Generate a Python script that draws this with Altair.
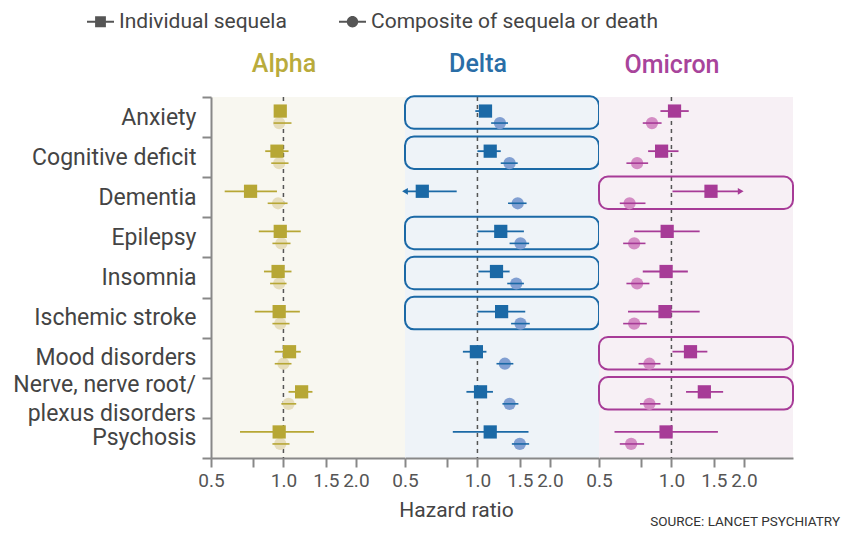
import altair as alt
import pandas as pd

FONT = "Roboto"

NERVE = "Nerve, nerve root/|plexus disorders"
rows = ["Anxiety", "Cognitive deficit", "Dementia", "Epilepsy", "Insomnia",
        "Ischemic stroke", "Mood disorders", NERVE, "Psychosis"]
variants = ["Alpha", "Delta", "Omicron"]

# Individual sequela (square) hazard ratios and 95% CI
alpha_sq = [0.97, 0.94, 0.73, 0.97, 0.95, 0.96, 1.06, 1.19, 0.96]
alpha_sq_lo = [0.93, 0.84, 0.57, 0.79, 0.83, 0.76, 0.92, 1.05, 0.66]
alpha_sq_hi = [1.01, 1.05, 0.94, 1.18, 1.08, 1.17, 1.18, 1.32, 1.34]
# Composite of sequela or death (circle)
alpha_co = [0.96, 0.96, 0.95, 0.98, 0.96, 0.97, 1.00, 1.05, 0.97]
alpha_co_lo = [0.91, 0.89, 0.86, 0.90, 0.88, 0.90, 0.92, 0.98, 0.90]
alpha_co_hi = [1.08, 1.05, 1.04, 1.07, 1.03, 1.06, 1.08, 1.13, 1.06]

delta_sq = [1.08, 1.13, 0.59, 1.25, 1.20, 1.26, 0.99, 1.03, 1.13]
delta_sq_lo = [0.98, 1.00, 0.50, 1.00, 1.01, 1.00, 0.87, 0.90, 0.79]
delta_sq_hi = [1.13, 1.25, 0.82, 1.56, 1.36, 1.58, 1.09, 1.16, 1.63]
delta_co = [1.24, 1.36, 1.47, 1.51, 1.45, 1.51, 1.30, 1.36, 1.50]
delta_co_lo = [1.14, 1.25, 1.34, 1.36, 1.33, 1.38, 1.20, 1.27, 1.39]
delta_co_hi = [1.34, 1.47, 1.60, 1.64, 1.56, 1.65, 1.41, 1.48, 1.64]

omicron_sq = [1.03, 0.91, 1.46, 0.96, 0.95, 0.94, 1.20, 1.37, 0.95]
omicron_sq_lo = [0.90, 0.80, 1.01, 0.70, 0.76, 0.66, 1.01, 1.15, 0.58]
omicron_sq_hi = [1.18, 1.07, 1.94, 1.31, 1.17, 1.31, 1.41, 1.64, 1.56]
omicron_co = [0.83, 0.72, 0.67, 0.70, 0.72, 0.70, 0.81, 0.81, 0.68]
omicron_co_lo = [0.76, 0.65, 0.61, 0.63, 0.65, 0.63, 0.73, 0.74, 0.61]
omicron_co_hi = [0.91, 0.80, 0.78, 0.78, 0.81, 0.79, 0.90, 0.90, 0.77]

# truncated confidence intervals (arrow direction)
arrows = {("Delta", "Dementia"): "left", ("Omicron", "Dementia"): "right"}

# highlighted rows
highlight = {
    "Alpha": [],
    "Delta": ["Anxiety", "Cognitive deficit", "Epilepsy", "Insomnia", "Ischemic stroke"],
    "Omicron": ["Dementia", "Mood disorders", NERVE],
}

legend_labels = ["Individual sequela", "Composite of sequela or death"]
tick_values = [0.5, 0.75, 1.0, 1.5, 2.0]
ref_value = [1.0]

colors = {
    "Alpha": {"dark": "#b7a735", "light": "#e6ddbb", "bg": "#f8f7f0", "title": "#b9ab3c"},
    "Delta": {"dark": "#1b69a6", "light": "#819fd2", "bg": "#eef3f8", "title": "#2a6ea7"},
    "Omicron": {"dark": "#a73b97", "light": "#d48cc4", "bg": "#f7f0f5", "title": "#a8449b"},
}

series = {
    "Alpha": (alpha_sq, alpha_sq_lo, alpha_sq_hi, alpha_co, alpha_co_lo, alpha_co_hi),
    "Delta": (delta_sq, delta_sq_lo, delta_sq_hi, delta_co, delta_co_lo, delta_co_hi),
    "Omicron": (omicron_sq, omicron_sq_lo, omicron_sq_hi, omicron_co, omicron_co_lo, omicron_co_hi),
}

records = []
for v in variants:
    sq, sql, sqh, co, col, coh = series[v]
    for i, r in enumerate(rows):
        records.append(dict(variant=v, outcome=r, kind="sq", hr=sq[i], lo=sql[i], hi=sqh[i],
                            arrow=arrows.get((v, r), "")))
        records.append(dict(variant=v, outcome=r, kind="co", hr=co[i], lo=col[i], hi=coh[i],
                            arrow=""))
df = pd.DataFrame(records)
ref_df = pd.DataFrame({"x": ref_value})
legend_df = pd.DataFrame({"label": legend_labels})
nerve_df = pd.DataFrame({"outcome": [NERVE]})

sq_path = "M-1,-0.08H-0.4V-0.4H0.4V-0.08H1V0.08H0.4V0.4H-0.4V0.08H-1Z"
circ_path = "M-1,-0.08H1V0.08H-1Z M0.42,0 A0.42,0.42 0 1,1 -0.42,0 A0.42,0.42 0 1,1 0.42,0Z"

W, H = 194, 361
SQ_OFF, CO_OFF = -6, 6
LABEL_SIZE = 23


def panel(v, idx):
    c = colors[v]
    xscale = alt.Scale(type="log", domain=[0.5, 3.2], nice=False)
    xaxis = alt.Axis(
        values=tick_values,
        labelExpr="datum.value == 0.75 ? '' : format(datum.value, '.1f')",
        labelFontSize=19, labelColor="#555", labelFont=FONT, labelFlush=False,
        labelOverlap=False, labelPadding=4,
        tickSize=9, tickColor="#888", tickWidth=2,
        domainColor="#888", domainWidth=2, grid=False,
        title="Hazard ratio" if idx == 1 else None,
        titleFontSize=21, titleFontWeight="normal", titleColor="#444", titleFont=FONT,
        titlePadding=9, titleX=51,
    )
    if idx == 0:
        yaxis = alt.Axis(
            labelFontSize=LABEL_SIZE, labelColor="#444", labelFont=FONT, labelLimit=400,
            labelExpr="indexof(datum.label, '|') >= 0 ? '' : datum.label",
            tickBand="extent", tickSize=9, tickColor="#888", tickWidth=2,
            domainColor="#888", domainWidth=2, labelPadding=6,
            minExtent=197, maxExtent=197, title=None,
        )
    else:
        yaxis = None
    yscale = alt.Scale(domain=rows, paddingInner=0, paddingOuter=0)

    def X(f):
        return alt.X(f, type="quantitative", scale=xscale, axis=xaxis)

    def Y():
        if yaxis is None:
            return alt.Y("outcome:N", scale=yscale, axis=None)
        return alt.Y("outcome:N", scale=yscale, axis=yaxis)

    d = df[df.variant == v]
    sqd = d[d.kind == "sq"]
    cod = d[d.kind == "co"]

    layers = []
    ref = alt.Chart(ref_df).mark_rule(strokeDash=[4, 4], color="#555", strokeWidth=1.5).encode(x=X("x"))
    layers.append(ref)
    hl = highlight[v]
    if hl:
        box_df = pd.DataFrame({"outcome": hl})
        boxes = alt.Chart(box_df).mark_bar(
            fillOpacity=0, stroke=c["dark"], strokeWidth=2, cornerRadius=9,
            height=alt.RelativeBandSize(band=0.81), yOffset=-4.5,
        ).encode(y=Y())
        layers.append(boxes)
    circles = alt.Chart(cod).mark_circle(size=150, opacity=1, color=c["light"], yOffset=CO_OFF).encode(
        x=X("hr"), y=Y())
    co_rule = alt.Chart(cod).mark_rule(color=c["dark"], strokeWidth=1.6, yOffset=CO_OFF).encode(
        x=X("lo"), x2="hi:Q", y=Y())
    sq_rule = alt.Chart(sqd).mark_rule(color=c["dark"], strokeWidth=1.8, yOffset=SQ_OFF).encode(
        x=X("lo"), x2="hi:Q", y=Y())
    squares = alt.Chart(sqd).mark_square(size=175, opacity=1, color=c["dark"], yOffset=SQ_OFF).encode(
        x=X("hr"), y=Y())
    layers += [circles, co_rule, sq_rule, squares]
    left = sqd[sqd.arrow == "left"]
    right = sqd[sqd.arrow == "right"]
    if len(left):
        layers.append(alt.Chart(left).mark_point(shape="triangle-left", filled=True, size=45, opacity=1,
                                                 color=c["dark"], yOffset=SQ_OFF).encode(x=X("lo"), y=Y()))
    if len(right):
        layers.append(alt.Chart(right).mark_point(shape="triangle-right", filled=True, size=45, opacity=1,
                                                  color=c["dark"], yOffset=SQ_OFF).encode(x=X("hi"), y=Y()))
    if idx == 0:
        # two-line category label for the "Nerve" row
        nerve_label = alt.Chart(nerve_df).mark_text(
            align="right", baseline="middle", dy=-13, fontSize=LABEL_SIZE, font=FONT,
            color="#444", lineBreak="|", lineHeight=29,
        ).encode(y=Y(), x=alt.value(-15), text="outcome:N")
        layers.append(nerve_label)
        leg = alt.Chart(legend_df).mark_point(opacity=0, filled=True, color="#555").encode(
            shape=alt.Shape("label:N",
                            scale=alt.Scale(domain=legend_labels, range=[sq_path, circ_path]),
                            legend=alt.Legend(
                                orient="none", legendX=-124, legendY=-89, direction="horizontal",
                                title=None, labelFontSize=21, labelColor="#444", labelFont=FONT,
                                labelLimit=400,
                                symbolSize=729, symbolFillColor="#555", symbolStrokeColor="#555",
                                symbolStrokeWidth=0, symbolOpacity=1, columnPadding=52, labelOffset=5,
                            )))
        layers.append(leg)

    return alt.layer(*layers).properties(
        width=W, height=H,
        view=alt.ViewBackground(fill=c["bg"], stroke="transparent"),
        title=alt.TitleParams(v, color=c["title"], fontSize=25, fontWeight=500, font=FONT,
                              anchor="middle", dx=-24, offset=9 if idx == 0 else 18),
    )


chart = alt.hconcat(*[panel(v, i) for i, v in enumerate(variants)], spacing=0, bounds="flush").properties(
    title=alt.TitleParams("SOURCE: LANCET PSYCHIATRY", orient="bottom", anchor="end", fontSize=13.5,
                          color="#333", fontWeight="normal", font=FONT, dx=46, offset=-5),
    padding={"left": 5, "top": 0, "right": 5, "bottom": 0},
).configure_view(strokeWidth=0)

chart.save("out.html", embed_options={"renderer": "svg", "actions": False})
